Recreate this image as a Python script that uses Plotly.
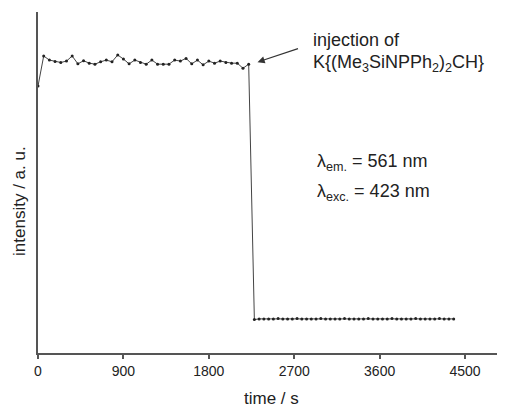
import plotly.graph_objects as go

# time (s) and intensity (a. u.) before injection
t_before = [0, 60, 120, 180, 240, 300, 360, 420, 480, 540, 600, 660, 720, 780, 840,
            900, 960, 1020, 1080, 1140, 1200, 1260, 1320, 1380, 1440, 1500, 1560,
            1620, 1680, 1740, 1800, 1860, 1920, 1980, 2040, 2100, 2160, 2220]
i_before = [78.3, 87.1, 85.9, 85.5, 85.2, 85.6, 87.1, 84.8, 85.7, 85.0, 84.7, 85.4,
            85.9, 85.4, 87.4, 86.2, 84.8, 85.9, 85.2, 84.7, 85.9, 84.7, 84.7, 84.7,
            85.9, 85.6, 86.4, 84.8, 85.9, 84.5, 85.6, 85.0, 85.6, 85.2, 85.0, 85.0,
            83.5, 84.7]

# after injection
t_after = [2280, 2330, 2380, 2430, 2480, 2530, 2580, 2630, 2680, 2730, 2780, 2830,
           2880, 2930, 2980, 3030, 3080, 3130, 3180, 3230, 3280, 3330, 3380, 3430,
           3480, 3530, 3580, 3630, 3680, 3730, 3780, 3830, 3880, 3930, 3980, 4030,
           4080, 4130, 4180, 4230, 4280, 4330, 4380]
i_after = [9.8, 10.0, 10.0, 10.0, 10.0, 10.1, 10.0, 10.0, 10.0, 10.1, 10.0, 10.0,
           10.0, 10.0, 10.1, 10.0, 10.0, 10.0, 10.0, 10.1, 10.0, 10.0, 10.0, 10.0,
           10.1, 10.0, 10.0, 10.0, 10.0, 10.1, 10.0, 10.0, 10.0, 10.0, 10.1, 10.0,
           10.0, 10.0, 10.0, 10.1, 10.0, 10.0, 10.0]

x_ticks = [0, 900, 1800, 2700, 3600, 4500]

t_all = t_before + t_after
i_all = i_before + i_after

FONT = "Liberation Sans, Arial, sans-serif"
AX = "#555555"
TXT = "#222222"

fig = go.Figure()
fig.add_trace(go.Scatter(
    x=t_all, y=i_all, mode="lines+markers",
    line=dict(color="#444444", width=1),
    marker=dict(color="#222222", size=3),
    showlegend=False,
))

fig.add_annotation(x=2313, y=85.3, ax=42, ay=-14, xref="x", yref="y",
                   text="", showarrow=True, arrowhead=2, arrowsize=1.2,
                   arrowwidth=1.2, arrowcolor="#333333")
fig.add_annotation(x=2873, y=91.8, xref="x", yref="y", text="injection of",
                   showarrow=False, xanchor="left", yanchor="middle",
                   font=dict(family=FONT, size=18, color=TXT))
fig.add_annotation(x=2873, y=85.0, xref="x", yref="y",
                   text="K{(Me<sub>3</sub>SiNPPh<sub>2</sub>)<sub>2</sub>CH}",
                   showarrow=False, xanchor="left", yanchor="middle",
                   font=dict(family=FONT, size=18, color=TXT))
fig.add_annotation(x=2915, y=56.0, xref="x", yref="y",
                   text="λ<sub>em.</sub> = 561 nm",
                   showarrow=False, xanchor="left", yanchor="middle",
                   font=dict(family=FONT, size=18, color=TXT))
fig.add_annotation(x=2915, y=47.2, xref="x", yref="y",
                   text="λ<sub>exc.</sub> = 423 nm",
                   showarrow=False, xanchor="left", yanchor="middle",
                   font=dict(family=FONT, size=18, color=TXT))

# axis titles placed as annotations for precise positioning
fig.add_annotation(x=0.499, y=-0.132, xref="paper", yref="paper", text="time / s",
                   showarrow=False, xanchor="center", yanchor="middle",
                   font=dict(family=FONT, size=17, color=TXT))
fig.add_annotation(x=-0.0385, y=0.446, xref="paper", yref="paper",
                   text="intensity / a. u.", textangle=-90,
                   showarrow=False, xanchor="center", yanchor="middle",
                   font=dict(family=FONT, size=17, color=TXT))

# the page places the figure 8 px from its top-left corner
fig.update_layout(
    width=497, height=399,
    margin=dict(l=30, r=0, t=4, b=54),
    paper_bgcolor="white", plot_bgcolor="white",
    font=dict(family=FONT, color=TXT),
    xaxis=dict(range=[0, 4921], tickvals=x_ticks, ticks="outside", ticklen=4,
               tickcolor=AX, tickwidth=1.5, showline=True, linecolor=AX,
               linewidth=1.5, showgrid=False, zeroline=False, automargin=False,
               tickfont=dict(size=14, family=FONT)),
    yaxis=dict(range=[0, 100], showticklabels=False, ticks="", showline=True,
               linecolor=AX, linewidth=1.5, showgrid=False, zeroline=False,
               automargin=False),
)

fig.write_html("out.html")
